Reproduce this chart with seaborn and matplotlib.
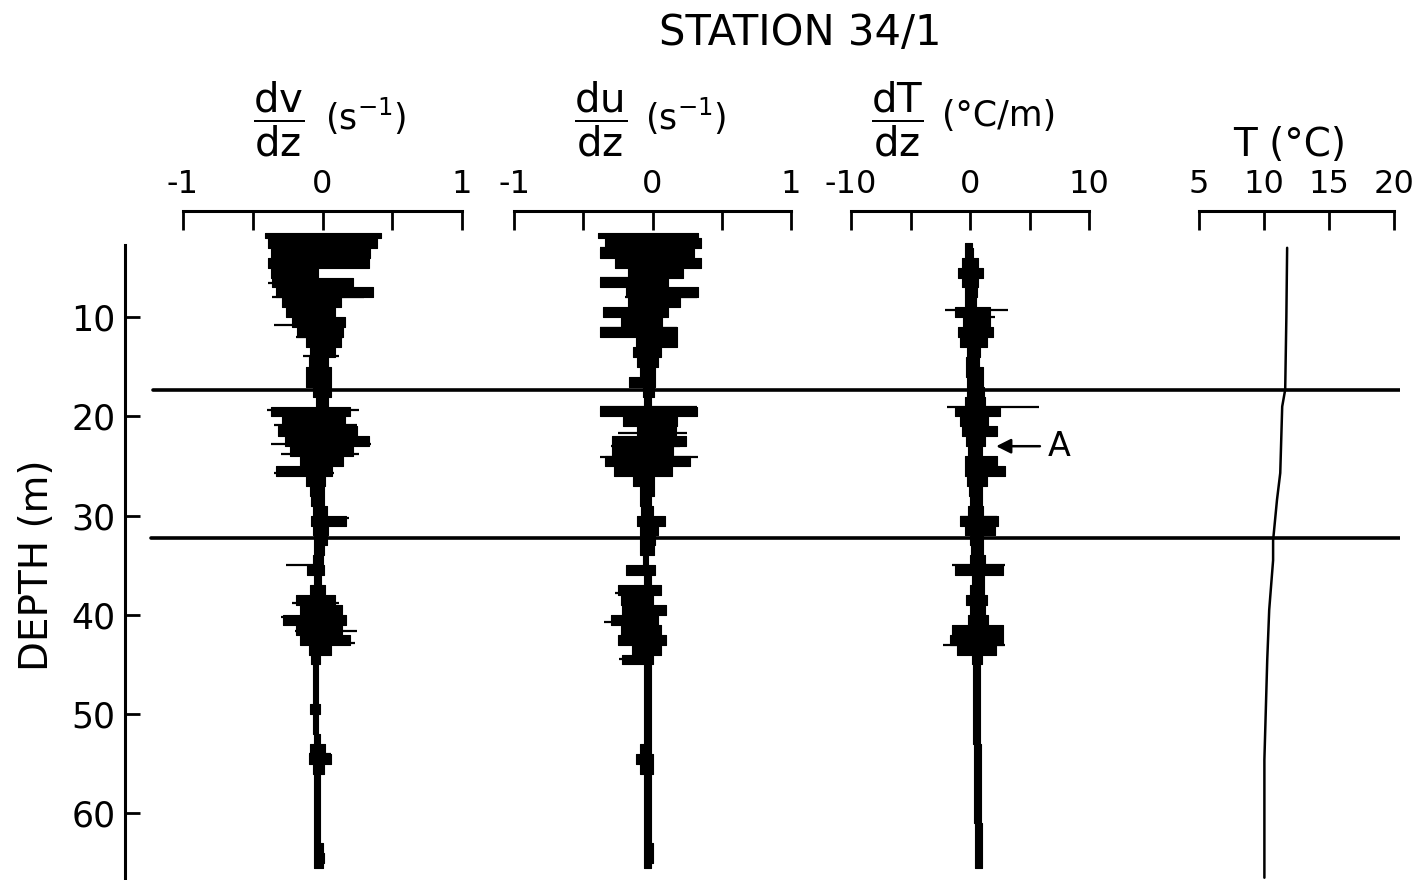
import numpy as np
import pandas as pd
import matplotlib
matplotlib.use("Agg")
import matplotlib.pyplot as plt
import seaborn as sns

# Depth grid (m) for the shear / gradient traces
depth = [1.5, 2.5, 3.5, 4.5, 5.5, 6.5, 7.5, 8.5, 9.5, 10.5,
         11.5, 12.5, 13.5, 14.5, 15.5, 16.5, 17.5, 18.5, 19.5, 20.5,
         21.5, 22.5, 23.5, 24.5, 25.5, 26.5, 27.5, 28.5, 29.5, 30.5,
         31.5, 32.5, 33.5, 34.5, 35.5, 36.5, 37.5, 38.5, 39.5, 40.5,
         41.5, 42.5, 43.5, 44.5, 45.5, 46.5, 47.5, 48.5, 49.5, 50.5,
         51.5, 52.5, 53.5, 54.5, 55.5, 56.5, 57.5, 58.5, 59.5, 60.5,
         61.5, 62.5, 63.5, 64.5, 65.5]

# dv/dz envelope (s-1)
dv_left = [-0.41, -0.39, -0.37, -0.39, -0.37, -0.36, -0.33, -0.29, -0.26, -0.22,
           -0.18, -0.12, -0.09, -0.10, -0.12, -0.12, -0.07, -0.05, -0.37, -0.29,
           -0.32, -0.27, -0.23, -0.16, -0.33, -0.12, -0.09, -0.08, -0.07, -0.08,
           -0.07, -0.06, -0.06, -0.07, -0.11, -0.06, -0.09, -0.19, -0.16, -0.28,
           -0.19, -0.16, -0.10, -0.08, -0.07, -0.07, -0.07, -0.07, -0.09, -0.07,
           -0.07, -0.06, -0.09, -0.10, -0.07, -0.06, -0.06, -0.06, -0.06, -0.06,
           -0.06, -0.06, -0.06, -0.06, -0.06]
dv_right = [0.42, 0.39, 0.34, 0.33, -0.03, 0.22, 0.36, 0.13, 0.09, 0.16,
            0.15, 0.13, 0.09, 0.04, 0.06, 0.06, 0.06, 0.04, 0.20, 0.16,
            0.25, 0.33, 0.22, 0.15, 0.07, 0.02, 0.01, 0.01, 0.03, 0.17,
            0.04, 0.03, 0.01, 0.00, 0.01, -0.01, 0.02, 0.09, 0.14, 0.17,
            0.14, 0.20, 0.06, -0.02, -0.03, -0.03, -0.03, -0.03, -0.02, -0.03,
            -0.03, -0.02, 0.02, 0.06, 0.01, -0.02, -0.02, -0.02, -0.02, -0.02,
            -0.02, -0.02, 0.00, 0.01, 0.00]
dv_spike_depth = [6.5, 8.0, 10.8, 12.0, 13.9, 19.4, 20.9, 22.8, 23.8, 25.7,
                  30.2, 35.0, 38.8, 40.2, 41.6, 42.8, 54.0]
dv_spike_left = [-0.39, -0.36, -0.35, -0.19, -0.14, -0.40, -0.35, -0.37, -0.30, -0.35,
                 -0.08, -0.26, -0.22, -0.30, -0.20, -0.10, -0.10]
dv_spike_right = [0.22, 0.30, 0.08, 0.15, 0.12, 0.26, 0.25, 0.35, 0.26, 0.08,
                  0.19, 0.00, 0.12, 0.05, 0.25, 0.23, 0.06]

# du/dz envelope (s-1)
du_left = [-0.39, -0.34, -0.38, -0.27, -0.18, -0.38, -0.19, -0.18, -0.36, -0.23,
           -0.38, -0.12, -0.14, -0.11, -0.09, -0.17, -0.07, -0.06, -0.38, -0.21,
           -0.11, -0.29, -0.29, -0.34, -0.28, -0.14, -0.09, -0.09, -0.08, -0.11,
           -0.09, -0.09, -0.09, -0.07, -0.19, -0.06, -0.25, -0.23, -0.22, -0.30,
           -0.23, -0.25, -0.15, -0.22, -0.06, -0.06, -0.06, -0.06, -0.06, -0.06,
           -0.06, -0.06, -0.09, -0.12, -0.09, -0.06, -0.06, -0.06, -0.06, -0.06,
           -0.06, -0.06, -0.06, -0.06, -0.06]
du_right = [0.33, 0.35, 0.30, 0.35, 0.22, 0.11, 0.33, 0.20, 0.11, 0.07,
            0.18, 0.18, 0.06, 0.04, 0.02, 0.02, 0.01, -0.01, 0.32, 0.18,
            0.17, 0.24, 0.15, 0.27, 0.14, 0.01, 0.01, -0.01, 0.00, 0.09,
            0.04, 0.02, 0.01, -0.03, 0.02, -0.01, 0.06, 0.00, 0.10, 0.04,
            0.06, 0.10, 0.06, 0.00, -0.01, -0.01, -0.01, -0.01, -0.01, -0.01,
            -0.01, -0.01, -0.01, 0.00, 0.00, -0.01, -0.01, -0.01, -0.01, -0.01,
            -0.01, -0.01, 0.00, 0.00, -0.01]
du_spike_depth = [3.0, 6.0, 8.0, 9.3, 11.1, 19.0, 21.7, 23.0, 24.1, 37.8,
                  39.4, 40.7, 42.2, 44.5]
du_spike_left = [-0.38, -0.38, -0.20, -0.36, -0.38, -0.38, -0.25, -0.30, -0.38, -0.27,
                 -0.22, -0.35, -0.25, -0.24]
du_spike_right = [0.30, 0.11, 0.32, 0.11, 0.18, 0.32, 0.25, 0.20, 0.33, 0.06,
                  0.10, 0.04, 0.10, 0.00]

# dT/dz envelope (degC/m)
dT_left = [np.nan, -0.42, -0.42, -0.67, -1.00, -0.67, -0.42, -0.42, -1.25, -0.58,
           -1.00, -0.83, -0.25, -0.33, -0.33, -0.25, -0.25, -0.42, -1.25, -0.83,
           -0.67, -0.33, -0.17, -0.42, -0.42, -0.25, -0.08, 0.00, -0.17, -0.83,
           -0.42, 0.00, 0.08, 0.00, -1.25, 0.17, 0.00, -0.33, 0.00, -0.17,
           -1.50, -1.67, -1.08, 0.17, 0.25, 0.25, 0.25, 0.25, 0.25, 0.25,
           0.25, 0.25, 0.33, 0.33, 0.33, 0.33, 0.33, 0.33, 0.33, 0.33,
           0.42, 0.42, 0.42, 0.42, 0.42]
dT_right = [np.nan, 0.17, 0.25, 0.67, 1.08, 0.67, 0.58, 0.50, 1.67, 1.67,
            1.92, 1.42, 0.83, 0.75, 1.08, 1.08, 1.17, 1.25, 2.50, 1.50,
            2.25, 1.25, 1.00, 2.25, 2.92, 1.42, 1.00, 1.00, 1.08, 2.33,
            2.08, 1.08, 1.08, 1.25, 2.75, 1.17, 1.17, 1.42, 1.25, 1.50,
            2.75, 2.75, 2.17, 1.00, 0.83, 0.83, 0.83, 0.83, 0.83, 0.83,
            0.83, 0.83, 0.92, 0.92, 0.92, 0.92, 0.92, 0.92, 0.92, 0.92,
            1.00, 1.00, 1.00, 1.00, 1.00]
dT_spike_depth = [9.3, 10.0, 19.0, 19.7, 21.6, 24.2, 25.7, 30.1, 35.0, 41.5, 43.0]
dT_spike_left = [-2.1, -0.6, -1.9, -1.25, -0.7, -0.4, -0.4, -0.8, -1.5, -1.5, -2.25]
dT_spike_right = [3.2, 2.1, 5.8, 2.5, 2.3, 2.3, 2.9, 2.3, 2.9, 2.75, 2.9]

# Temperature profile
T_depth = [3.0, 10.0, 17.3, 19.0, 25.7, 28.4, 32.5, 34.5, 39.5, 44.5, 54.6, 66.5]
T_vals = [11.78, 11.72, 11.63, 11.40, 11.25, 11.00, 10.70, 10.70, 10.40, 10.25, 10.03, 10.03]

# Depths of the two horizontal reference lines
ref_depths = [17.3, 32.3]

depth_ticks = [10, 20, 30, 40, 50, 60]

panels = [
    dict(xlim=(-1, 1), ticks=[-1, -0.5, 0, 0.5, 1], labels=['-1', '', '0', '', '1']),
    dict(xlim=(-1, 1), ticks=[-1, -0.5, 0, 0.5, 1], labels=['-1', '', '0', '', '1']),
    dict(xlim=(-10, 10), ticks=[-10, -5, 0, 5, 10], labels=['-10', '', '0', '', '10']),
    dict(xlim=(5, 20), ticks=[5, 10, 15, 20], labels=['5', '10', '15', '20']),
]

sns.set_theme(style="white")
plt.rcParams['font.family'] = ['DejaVu Sans']
plt.rcParams['axes.unicode_minus'] = False
plt.rcParams['mathtext.fontset'] = 'dejavusans'
for k in ['text.color', 'axes.labelcolor', 'xtick.color', 'ytick.color']:
    plt.rcParams[k] = 'black'

W, H = 1419, 880
fig = plt.figure(figsize=(W / 100, H / 100), dpi=100)
fig.patch.set_facecolor('white')

ylim = (66.73, -0.71)
ax_h = 669 / H

# background axes: depth scale + horizontal reference lines
ax0 = fig.add_axes([125 / W, 0, 1275 / W, ax_h])
ax0.set_ylim(*ylim)
ax0.set_xlim(0, 1)
ax0.patch.set_alpha(0)
for s in ['top', 'right', 'bottom']:
    ax0.spines[s].set_visible(False)
ax0.spines['left'].set_color('black')
ax0.spines['left'].set_linewidth(2.2)
ax0.spines['left'].set_bounds(2.7, 66.73)
ax0.set_xticks([])
ax0.set_yticks(depth_ticks)
ax0.set_yticklabels([str(t) for t in depth_ticks])
ax0.tick_params(axis='y', direction='in', length=11, width=2.0, color='black',
                labelsize=25, pad=7, left=True)
for d, x0 in zip(ref_depths, [0.022, 0.020]):
    ax0.axhline(d, xmin=x0, xmax=1, color='black', lw=2.6)

fig.text(37 / W, 1 - 565 / H, 'DEPTH (m)', rotation=90, ha='center', va='center',
         fontsize=28)

lefts = [183, 514, 851, 1199]
widths = [279, 277, 238, 195]
axes = []
for p, l, w in zip(panels, lefts, widths):
    ax = fig.add_axes([l / W, 0, w / W, ax_h])
    ax.patch.set_alpha(0)
    ax.set_xlim(*p['xlim'])
    ax.set_ylim(*ylim)
    for s in ['left', 'right', 'bottom']:
        ax.spines[s].set_visible(False)
    ax.spines['top'].set_color('black')
    ax.spines['top'].set_linewidth(2.2)
    ax.xaxis.tick_top()
    ax.set_xticks(p['ticks'])
    ax.set_xticklabels(p['labels'])
    ax.set_yticks([])
    ax.tick_params(axis='x', direction='in', length=14, width=2.0, color='black',
                   labelsize=23, pad=8, top=True, bottom=False)
    axes.append(ax)

traces = [
    (dv_left, dv_right, dv_spike_depth, dv_spike_left, dv_spike_right),
    (du_left, du_right, du_spike_depth, du_spike_left, du_spike_right),
    (dT_left, dT_right, dT_spike_depth, dT_spike_left, dT_spike_right),
]
for ax, (lo, hi, sd, sl, sr) in zip(axes[:3], traces):
    ax.fill_betweenx(depth, lo, hi, step='mid', color='black', lw=0.8,
                     edgecolor='black')
    ax.hlines(sd, sl, sr, color='black', lw=1.6)

df_T = pd.DataFrame({'T': T_vals, 'depth': T_depth})
sns.lineplot(data=df_T, x='T', y='depth', orient='y', sort=False, ax=axes[3],
             color='black', lw=1.8)
axes[3].set_xlabel('')
axes[3].set_ylabel('')
axes[3].set_ylim(*ylim)

axes[2].annotate('A', xy=(2.2, 23.0), xytext=(6.5, 23.0), fontsize=24,
                 ha='left', va='center',
                 arrowprops=dict(arrowstyle='-|>', color='black', lw=1.8,
                                 mutation_scale=22, shrinkA=3, shrinkB=0))

# titles
def frac(xc, num, unit, ux):
    fig.text(xc / W, 1 - 119 / H, r'$\dfrac{\mathrm{%s}}{\mathrm{dz}}$' % num,
             ha='center', va='center', fontsize=29)
    fig.text(ux / W, 1 - 116 / H, unit, ha='left', va='center', fontsize=25)

frac(279, 'dv', r'(s$^{-1}$)', 325)
frac(601, 'du', r'(s$^{-1}$)', 645)
frac(897, 'dT', '(°C/m)', 942)
fig.text(1290 / W, 1 - 145 / H, 'T (°C)', ha='center', va='center', fontsize=28)
fig.text(800 / W, 1 - 33 / H, 'STATION 34/1', ha='center', va='center', fontsize=30)

fig.savefig('out.png', dpi=100, facecolor='white')
